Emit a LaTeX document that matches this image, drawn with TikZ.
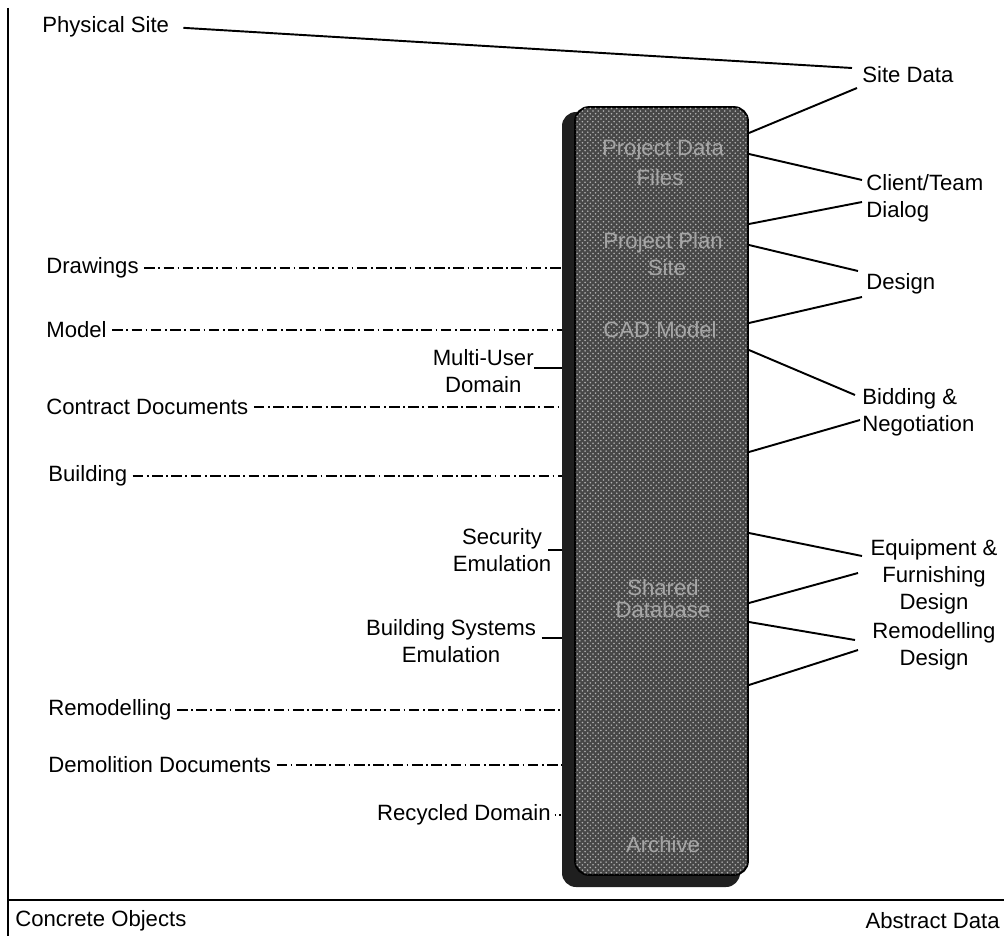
\documentclass[tikz,border=0pt]{standalone}
\usepackage{fontspec}
\setmainfont{Liberation Sans}
\usetikzlibrary{patterns}

\begin{document}
\begin{tikzpicture}[x=0.02cm,y=-0.02cm,
  txt/.style={inner sep=0pt,font=\fontsize{12.6}{15.5}\selectfont},
  bartxt/.style={txt,text=black!35},
  solidline/.style={line width=1.1pt},
  chainline/.style={line width=0.8pt,dash pattern=on 6pt off 2pt on 1pt off 2pt},
  databar/.style={draw=black,line width=1.1pt,fill=black!72,rounded corners=8pt,
    inner sep=0pt,minimum width=3.46cm,minimum height=15.36cm,
    postaction={pattern=crosshatch dots,pattern color=black!30}}]
\useasboundingbox (0,0) rectangle (1004,936);

% frame: left axis and base line
\coordinate (top) at (8,8);
\coordinate (bot) at (8,936);
\coordinate (baseL) at (8,900);
\coordinate (baseR) at (1004,900);
\draw[line width=1.4pt] (top) -- (bot);
\draw[line width=1.4pt] (baseL) -- (baseR);
\node[txt,anchor=west] (concrete) at (15,921) {Concrete Objects};
\node[txt,anchor=east] (abstract) at (1000,921) {Abstract Data};

% the shared data bar
\fill[black!88,rounded corners=8pt] (562,112) rectangle (740,887);
\node[databar] (bar) at (661.5,491) {};
\coordinate (edge) at (562,0);
\node[bartxt] (bt1) at (663,150) {Project Data};
\node[bartxt] (bt2) at (660,178) {Files};
\node[bartxt] (bt3) at (663,243) {Project Plan};
\node[bartxt] (bt4) at (667,268) {Site};
\node[bartxt] (bt5) at (660,330) {CAD Model};
\node[bartxt] (bt6) at (663,588) {Shared};
\node[bartxt] (bt7) at (663,610) {Database};
\node[bartxt] (bt8) at (663,845) {Archive};

% concrete side
\node[txt,anchor=west] (phys) at (42,27) {Physical Site};
\node[txt,anchor=west] (drawings) at (46,268) {Drawings};
\node[txt,anchor=west] (model) at (46,330) {Model};
\node[txt,align=center,anchor=east] (multi) at (534,371) {Multi-User\\Domain};
\node[txt,anchor=west] (contract) at (46,407) {Contract Documents};
\node[txt,anchor=west] (building) at (48,476) {Building};
\node[txt,align=center] (security) at (502,550) {Security\\Emulation};
\node[txt,align=center] (bsys) at (451,641) {Building Systems\\Emulation};
\node[txt,anchor=west] (remod) at (48,710) {Remodelling};
\node[txt,anchor=west] (demol) at (48,765) {Demolition Documents};
\node[txt,anchor=east] (recyc) at (551,815) {Recycled Domain};

\foreach \n in {drawings,model,contract,building,remod,demol}
  \draw[chainline,shorten <=3pt] (\n.east) -- (edge |- \n.east);
\draw[line width=0.8pt] (multi.east |- 0,368) -- (edge |- 0,368);
\draw[line width=0.8pt] ([xshift=-2pt]security.east |- 0,550) -- (edge |- 0,550);
\draw[line width=0.8pt] ([xshift=3pt]bsys.east |- 0,638) -- (edge |- 0,638);
\draw[line width=0.8pt,dotted,shorten <=2pt] (recyc.east) -- (edge |- recyc.east);

% abstract side
\node[txt,anchor=west] (sitedata) at (862,75) {Site Data};
\node[txt,align=left,anchor=west] (client) at (866,198) {Client/Team\\Dialog};
\node[txt,anchor=west] (design) at (866,284) {Design};
\node[txt,align=left,anchor=west] (bidding) at (862,412) {Bidding \&\\Negotiation};
\node[txt,align=center] (equip) at (934,577) {Equipment \&\\Furnishing\\Design};
\node[txt,align=center] (remodel) at (934,646) {Remodelling\\Design};

\foreach \n/\y in {1/133,2/154,3/224,4/245,5/323,6/350,7/452,8/533,9/603,10/622,11/685}
  \coordinate (b\n) at (bar.east |- 0,\y);
\coordinate (sd-a) at (852,68);
\coordinate (sd-b) at (857,88);
\coordinate (cl-a) at (862,180);
\coordinate (cl-b) at (862,202);
\coordinate (de-a) at (858,271);
\coordinate (de-b) at (862,297);
\coordinate (bi-a) at (855,395);
\coordinate (bi-b) at (860,420);
\coordinate (eq-a) at (862,556);
\coordinate (eq-b) at (858,573);
\coordinate (re-a) at (855,640);
\coordinate (re-b) at (858,650);

\draw[solidline,shorten <=8pt] (phys.east) -- (sd-a);
\draw[solidline] (sd-b) -- (b1);
\draw[solidline] (b2) -- (cl-a);
\draw[solidline] (cl-b) -- (b3);
\draw[solidline] (b4) -- (de-a);
\draw[solidline] (de-b) -- (b5);
\draw[solidline] (b6) -- (bi-a);
\draw[solidline] (bi-b) -- (b7);
\draw[solidline] (b8) -- (eq-a);
\draw[solidline] (eq-b) -- (b9);
\draw[solidline] (b10) -- (re-a);
\draw[solidline] (re-b) -- (b11);
\end{tikzpicture}
\end{document}
